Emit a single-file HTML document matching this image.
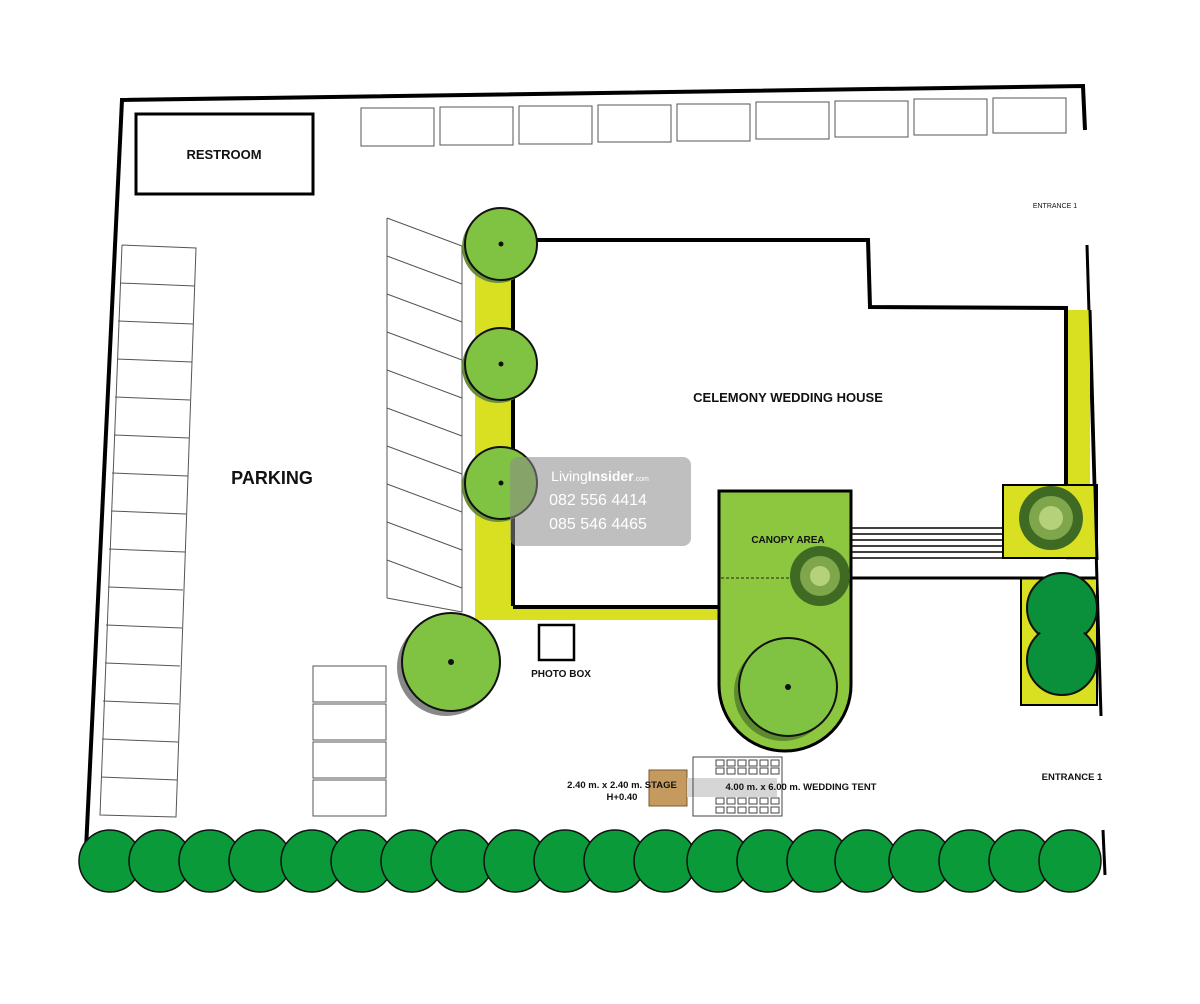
<!DOCTYPE html>
<html><head><meta charset="utf-8"><style>
html,body{margin:0;padding:0;background:#fff;width:1200px;height:1004px;overflow:hidden}
svg{display:block}
text{font-family:"Liberation Sans",Arial,sans-serif;font-weight:bold;fill:#111}
text.n{font-weight:normal}
</style></head><body>
<svg width="1200" height="1004" viewBox="0 0 1200 1004" xmlns="http://www.w3.org/2000/svg">
<polyline points="85,870 122,100 1083,86 1085,130" fill="none" stroke="#000" stroke-width="4"/>
<line x1="1087" y1="245" x2="1101" y2="716" stroke="#000" stroke-width="3"/>
<line x1="1103" y1="830" x2="1105" y2="875" stroke="#000" stroke-width="3"/>
<rect x="136" y="114" width="177" height="80" fill="none" stroke="#000" stroke-width="3"/>
<text x="224" y="159" font-size="13" text-anchor="middle">RESTROOM</text>
<g fill="none" stroke="#555" stroke-width="1">
<rect x="361" y="108" width="73" height="38"/><rect x="440" y="107" width="73" height="38"/><rect x="519" y="106" width="73" height="38"/><rect x="598" y="105" width="73" height="37"/><rect x="677" y="104" width="73" height="37"/><rect x="756" y="102" width="73" height="37"/><rect x="835" y="101" width="73" height="36"/><rect x="914" y="99" width="73" height="36"/><rect x="993" y="98" width="73" height="35"/>
</g>
<g fill="none" stroke="#555" stroke-width="1">
<polyline points="122,245 196,248 176,817 100,815 122,245"/>
<line x1="120" y1="283" x2="195" y2="286"/><line x1="118" y1="321" x2="193" y2="324"/><line x1="117" y1="359" x2="192" y2="362"/><line x1="115" y1="397" x2="190" y2="400"/><line x1="114" y1="435" x2="189" y2="438"/><line x1="112" y1="473" x2="188" y2="476"/><line x1="111" y1="511" x2="186" y2="514"/><line x1="109" y1="549" x2="185" y2="552"/><line x1="108" y1="587" x2="183" y2="590"/><line x1="106" y1="625" x2="182" y2="628"/><line x1="105" y1="663" x2="180" y2="666"/><line x1="103" y1="701" x2="179" y2="704"/><line x1="102" y1="739" x2="178" y2="742"/><line x1="101" y1="777" x2="177" y2="780"/>
</g>
<text x="272" y="484" font-size="18" text-anchor="middle">PARKING</text>
<g fill="none" stroke="#555" stroke-width="1">
<line x1="387" y1="218" x2="387" y2="598"/><line x1="462" y1="246" x2="462" y2="612"/>
<line x1="387" y1="218" x2="462" y2="246"/><line x1="387" y1="256" x2="462" y2="284"/><line x1="387" y1="294" x2="462" y2="322"/><line x1="387" y1="332" x2="462" y2="360"/><line x1="387" y1="370" x2="462" y2="398"/><line x1="387" y1="408" x2="462" y2="436"/><line x1="387" y1="446" x2="462" y2="474"/><line x1="387" y1="484" x2="462" y2="512"/><line x1="387" y1="522" x2="462" y2="550"/><line x1="387" y1="560" x2="462" y2="588"/><line x1="387" y1="598" x2="462" y2="612"/>
</g>
<g fill="none" stroke="#555" stroke-width="1">
<rect x="313" y="666" width="73" height="36"/><rect x="313" y="704" width="73" height="36"/><rect x="313" y="742" width="73" height="36"/><rect x="313" y="780" width="73" height="36"/>
</g>
<path d="M475,245 L513,245 L513,606 L720,606 L720,620 L475,620 Z" fill="#d8e021"/>
<rect x="1066" y="310" width="24" height="250" fill="#d8e021"/>
<rect x="1003" y="485" width="94" height="73" fill="#d8e021" stroke="#000" stroke-width="2"/>
<rect x="1021" y="578" width="76" height="127" fill="#d8e021" stroke="#000" stroke-width="2"/>
<line x1="1090" y1="310" x2="1097" y2="560" stroke="#000" stroke-width="3"/>
<polyline points="513,606 513,240 868,240 870,307 1066,308 1066,485" fill="none" stroke="#000" stroke-width="4"/>
<line x1="513" y1="607" x2="720" y2="607" stroke="#000" stroke-width="4"/>
<text x="788" y="402" font-size="13" text-anchor="middle">CELEMONY WEDDING HOUSE</text>
<g stroke="#000" stroke-width="1.5">
<line x1="851" y1="528" x2="1003" y2="528"/><line x1="851" y1="534" x2="1003" y2="534"/><line x1="851" y1="540" x2="1003" y2="540"/><line x1="851" y1="546" x2="1003" y2="546"/><line x1="851" y1="552" x2="1003" y2="552"/><line x1="851" y1="558" x2="1003" y2="558"/>
</g>
<line x1="851" y1="578" x2="1097" y2="578" stroke="#000" stroke-width="3"/>
<path d="M719,491 L851,491 L851,685 A66,66 0 0 1 719,685 Z" fill="#8dc63f" stroke="#000" stroke-width="3"/>
<line x1="721" y1="578" x2="800" y2="578" stroke="#222" stroke-width="1" stroke-dasharray="3,2"/>
<text x="788" y="543" font-size="10" text-anchor="middle">CANOPY AREA</text>
<g stroke="#111" stroke-width="2">
<circle cx="498" cy="247" r="36" fill="#6a8f3a" stroke="none"/><circle cx="501" cy="244" r="36" fill="#80c342"/>
<circle cx="498" cy="367" r="36" fill="#6a8f3a" stroke="none"/><circle cx="501" cy="364" r="36" fill="#80c342"/>
<circle cx="498" cy="486" r="36" fill="#6a8f3a" stroke="none"/><circle cx="501" cy="483" r="36" fill="#80c342"/>
<circle cx="446" cy="667" r="49" fill="#888" stroke="none"/><circle cx="451" cy="662" r="49" fill="#80c342"/>
<circle cx="783" cy="692" r="49" fill="#5d8a2e" stroke="none"/><circle cx="788" cy="687" r="49" fill="#80c342"/>
<circle cx="1062" cy="608" r="35" fill="#0a8f3a"/><circle cx="1062" cy="660" r="35" fill="#0a8f3a"/>
<circle cx="1062" cy="608" r="33" fill="#0a8f3a" stroke="none"/>
</g>
<circle cx="1051" cy="518" r="32" fill="#3f6a24"/><circle cx="1051" cy="518" r="22" fill="#7fa64a"/><circle cx="1051" cy="518" r="12" fill="#b5d27a"/>
<circle cx="820" cy="576" r="30" fill="#3f6a24"/><circle cx="820" cy="576" r="20" fill="#7fa64a"/><circle cx="820" cy="576" r="10" fill="#b5d27a"/>
<g fill="#111"><circle cx="501" cy="244" r="2.5"/><circle cx="501" cy="364" r="2.5"/><circle cx="501" cy="483" r="2.5"/><circle cx="451" cy="662" r="3"/><circle cx="788" cy="687" r="3"/></g>
<rect x="539" y="625" width="35" height="35" fill="none" stroke="#000" stroke-width="2.5"/>
<text x="561" y="677" font-size="10" text-anchor="middle">PHOTO BOX</text>
<rect x="649" y="770" width="38" height="36" fill="#c49a5e" stroke="#7a5a30"/>
<rect x="687" y="778" width="90" height="19" fill="#d6d6d6"/>
<g fill="none" stroke="#444" stroke-width="1">
<rect x="693" y="757" width="89" height="59"/>
<rect x="716" y="760" width="8" height="6"/><rect x="727" y="760" width="8" height="6"/><rect x="738" y="760" width="8" height="6"/><rect x="749" y="760" width="8" height="6"/><rect x="760" y="760" width="8" height="6"/><rect x="771" y="760" width="8" height="6"/>
<rect x="716" y="768" width="8" height="6"/><rect x="727" y="768" width="8" height="6"/><rect x="738" y="768" width="8" height="6"/><rect x="749" y="768" width="8" height="6"/><rect x="760" y="768" width="8" height="6"/><rect x="771" y="768" width="8" height="6"/>
<rect x="716" y="798" width="8" height="6"/><rect x="727" y="798" width="8" height="6"/><rect x="738" y="798" width="8" height="6"/><rect x="749" y="798" width="8" height="6"/><rect x="760" y="798" width="8" height="6"/><rect x="771" y="798" width="8" height="6"/>
<rect x="716" y="807" width="8" height="6"/><rect x="727" y="807" width="8" height="6"/><rect x="738" y="807" width="8" height="6"/><rect x="749" y="807" width="8" height="6"/><rect x="760" y="807" width="8" height="6"/><rect x="771" y="807" width="8" height="6"/>
</g>
<text x="622" y="788" font-size="9.5" text-anchor="middle">2.40 m. x 2.40 m. STAGE</text>
<text x="622" y="800" font-size="9.5" text-anchor="middle">H+0.40</text>
<text x="801" y="790" font-size="9.5" text-anchor="middle">4.00 m. x 6.00 m. WEDDING TENT</text>
<text x="1072" y="780" font-size="9.5" text-anchor="middle">ENTRANCE 1</text>
<text class="n" x="1055" y="208" font-size="7" text-anchor="middle">ENTRANCE 1</text>
<g fill="#0a9a3a" stroke="#111" stroke-width="1.5">
<circle cx="110" cy="861" r="31"/><circle cx="160" cy="861" r="31"/><circle cx="210" cy="861" r="31"/><circle cx="260" cy="861" r="31"/><circle cx="312" cy="861" r="31"/><circle cx="362" cy="861" r="31"/><circle cx="412" cy="861" r="31"/><circle cx="462" cy="861" r="31"/><circle cx="515" cy="861" r="31"/><circle cx="565" cy="861" r="31"/><circle cx="615" cy="861" r="31"/><circle cx="665" cy="861" r="31"/><circle cx="718" cy="861" r="31"/><circle cx="768" cy="861" r="31"/><circle cx="818" cy="861" r="31"/><circle cx="866" cy="861" r="31"/><circle cx="920" cy="861" r="31"/><circle cx="970" cy="861" r="31"/><circle cx="1020" cy="861" r="31"/><circle cx="1070" cy="861" r="31"/>
</g>
<rect x="510" y="457" width="181" height="89" rx="8" fill="#8a8a8a" opacity="0.55"/>
<text class="n" x="600" y="481" font-size="14" text-anchor="middle" style="fill:#fff">Living<tspan font-weight="bold" style="fill:#fff">Insider</tspan><tspan font-size="7" style="fill:#fff">.com</tspan></text>
<text class="n" x="598" y="505" font-size="16" text-anchor="middle" style="fill:#fff">082 556 4414</text>
<text class="n" x="598" y="529" font-size="16" text-anchor="middle" style="fill:#fff">085 546 4465</text>
</svg>
</body></html>
